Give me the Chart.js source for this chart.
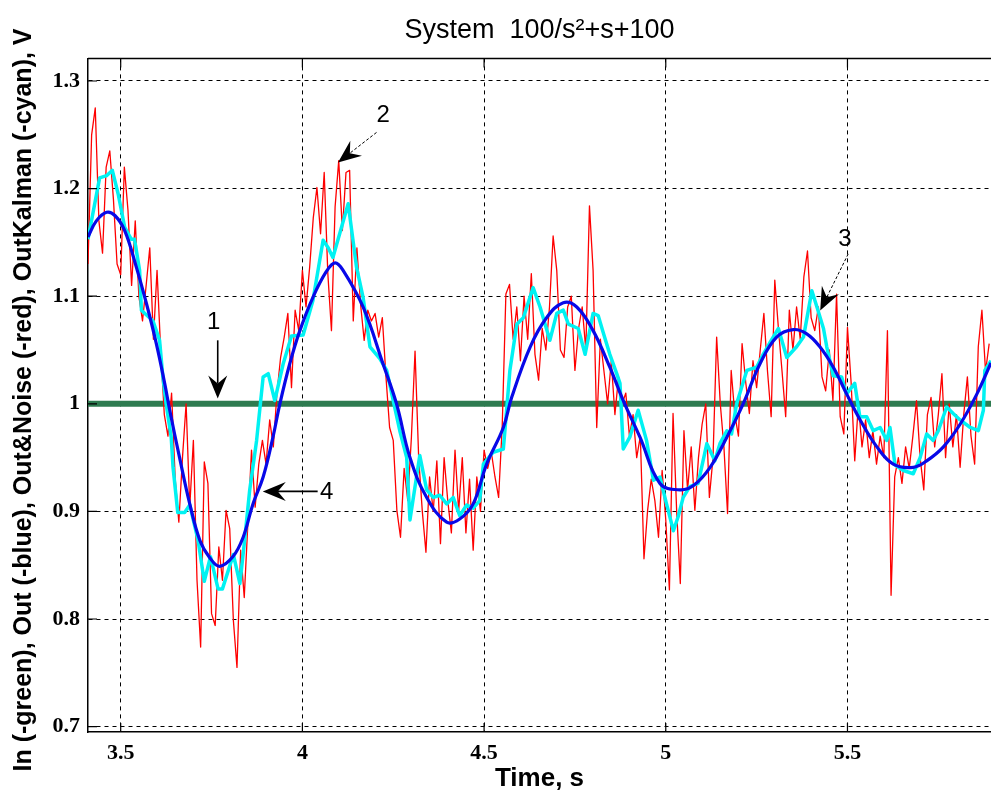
<!DOCTYPE html>
<html>
<head>
<meta charset="utf-8">
<script src="https://cdn.jsdelivr.net/npm/chart.js@4/dist/chart.umd.min.js"></script>
<style>
  html, body { margin: 0; background: #fff; }
  canvas { display: block; }
</style>
</head>
<body>
<canvas id="chart" width="991" height="794"></canvas>
<script>
// Out&Noise (red), sampled every 0.01 s from 3.41 s
const redStart = 3.41;
const redStep = 0.01;
const redValues = [
  1.13, 1.25, 1.275, 1.17, 1.14, 1.22, 1.235, 1.19, 1.13, 1.12,
  1.22, 1.18, 1.11, 1.17, 1.10, 1.077, 1.11, 1.145, 1.06, 1.124,
  1.05, 0.99, 0.97, 1.01, 0.93, 0.89, 0.95, 1.0, 0.904, 0.966,
  0.836, 0.774, 0.946, 0.926, 0.805, 0.794, 0.867, 0.836, 0.901, 0.884,
  0.799, 0.755, 0.864, 0.82, 0.889, 0.957, 0.904, 0.944, 0.966, 0.944,
  0.985, 0.96, 1.01, 1.043, 1.062, 1.084, 1.015, 1.087, 1.068, 1.124,
  1.09, 1.127, 1.173, 1.201, 1.158, 1.215, 1.121, 1.068, 1.183, 1.226,
  1.161, 1.215, 1.217, 1.077, 1.145, 1.093, 1.059, 1.087, 1.077, 1.084,
  1.062, 1.08, 1.025, 0.978, 0.966, 0.901, 0.876, 0.94, 0.91, 0.969,
  1.049, 0.95, 0.90, 0.862, 0.932, 0.90, 0.947, 0.870, 0.95, 0.91,
  0.88, 0.957, 0.90, 0.95, 0.88, 0.93, 0.864, 0.932, 0.90, 0.957,
  0.94, 0.955, 0.932, 0.913, 0.98, 1.102, 1.111, 1.06, 1.09, 1.04,
  1.10, 1.06, 1.121, 1.046, 1.022, 1.07, 1.05, 1.09, 1.156, 1.124,
  1.05, 1.043, 1.09, 1.10, 1.031, 1.07, 1.09, 1.05, 1.184, 1.124,
  0.978, 1.06, 1.03, 1.0, 1.04, 0.99, 1.025, 1.0, 1.01, 0.97,
  0.99, 0.95, 0.97, 0.856, 0.901, 0.93, 0.91, 0.876, 0.938, 0.892,
  0.827, 0.991, 0.90, 0.833, 0.975, 0.92, 0.96, 0.901, 0.95, 0.981,
  1.0, 0.913, 0.95, 1.062, 1.0, 0.96, 0.898, 1.031, 0.99, 0.97,
  1.056, 1.02, 0.991, 1.04, 1.015, 1.05, 1.084, 1.03, 0.988, 1.115,
  1.07, 1.03, 0.988, 1.087, 1.05, 1.09, 1.06, 1.118, 1.142, 1.08,
  1.068, 1.09, 1.025, 1.012, 1.05, 1.003, 1.102, 0.988, 0.972, 1.071,
  1.02, 0.947, 1.0, 0.96, 0.985, 0.95, 0.975, 0.944, 0.97, 0.95,
  1.068, 0.822, 0.932, 0.95, 0.926, 0.96, 0.94, 0.97, 1.003, 0.95,
  0.92, 0.99, 1.006, 0.96, 0.99, 1.028, 0.95, 1.0, 0.96, 0.99,
  0.941, 0.99, 1.025, 0.97, 0.944, 1.053, 1.087, 1.03, 1.056
];

// Out (blue)
const blueTimes = [
  3.41, 3.433, 3.461, 3.484, 3.511, 3.543, 3.571, 3.598, 3.621, 3.635,
  3.662, 3.690, 3.718, 3.745, 3.772, 3.809, 3.837, 3.864, 3.892, 3.919,
  3.938, 3.965, 3.993, 4.029, 4.066, 4.09, 4.112, 4.167, 4.222, 4.259,
  4.296, 4.342, 4.397, 4.433, 4.470, 4.507, 4.553, 4.576, 4.627, 4.672,
  4.718, 4.755, 4.800, 4.846, 4.883, 4.929, 4.984, 5.039, 5.076, 5.122,
  5.168, 5.213, 5.259, 5.305, 5.351, 5.388, 5.424, 5.461, 5.498, 5.535,
  5.581, 5.626, 5.681, 5.718, 5.764, 5.810, 5.856, 5.895
];
const blueValues = [
  1.155, 1.170, 1.178, 1.175, 1.161, 1.127, 1.093, 1.056, 1.019, 0.994,
  0.950, 0.907, 0.873, 0.857, 0.849, 0.858, 0.876, 0.907, 0.932, 0.969,
  1.000, 1.037, 1.068, 1.099, 1.123, 1.131, 1.124, 1.090, 1.037, 1.000,
  0.950, 0.913, 0.890, 0.893, 0.907, 0.944, 0.978, 1.006, 1.053, 1.080,
  1.094, 1.090, 1.068, 1.034, 1.003, 0.969, 0.926, 0.920, 0.924, 0.941,
  0.969, 1.000, 1.037, 1.062, 1.069, 1.065, 1.053, 1.034, 1.009, 0.985,
  0.960, 0.944, 0.941, 0.947, 0.960, 0.981, 1.009, 1.038
];

// OutKalman (cyan)
const cyanTimes = [
  3.41, 3.442, 3.461, 3.477, 3.493, 3.511, 3.529, 3.538, 3.552, 3.557,
  3.589, 3.607, 3.616, 3.625, 3.639, 3.644, 3.657, 3.676, 3.690, 3.713,
  3.730, 3.747, 3.768, 3.780, 3.810, 3.828, 3.840, 3.855, 3.874, 3.892,
  3.906, 3.924, 3.947, 3.970, 4.002, 4.029, 4.057, 4.071, 4.084, 4.126,
  4.149, 4.167, 4.186, 4.213, 4.232, 4.250, 4.268, 4.287, 4.296, 4.323,
  4.342, 4.360, 4.378, 4.397, 4.415, 4.433, 4.452, 4.470, 4.488, 4.498,
  4.525, 4.553, 4.562, 4.571, 4.590, 4.608, 4.635, 4.654, 4.681, 4.700,
  4.718, 4.732, 4.759, 4.778, 4.800, 4.814, 4.828, 4.846, 4.865, 4.874,
  4.883, 4.901, 4.924, 4.947, 4.966, 4.984, 5.002, 5.021, 5.034, 5.048,
  5.066, 5.089, 5.113, 5.135, 5.149, 5.168, 5.181, 5.195, 5.223, 5.250,
  5.268, 5.287, 5.310, 5.333, 5.360, 5.379, 5.402, 5.416, 5.434, 5.443,
  5.461, 5.484, 5.497, 5.520, 5.534, 5.553, 5.571, 5.590, 5.608, 5.617,
  5.631, 5.654, 5.681, 5.700, 5.718, 5.736, 5.750, 5.773, 5.791, 5.810,
  5.838, 5.860, 5.874, 5.878, 5.895
];
const cyanValues = [
  1.153, 1.210, 1.212, 1.217, 1.195, 1.164, 1.153, 1.153, 1.124, 1.087,
  1.077, 1.059, 1.025, 1.000, 0.969, 0.941, 0.899, 0.899, 0.906, 0.873,
  0.835, 0.858, 0.828, 0.828, 0.860, 0.833, 0.870, 0.920, 0.966, 1.025,
  1.028, 1.003, 1.037, 1.063, 1.064, 1.096, 1.152, 1.145, 1.136, 1.186,
  1.127, 1.099, 1.053, 1.042, 1.031, 1.003, 0.975, 0.950, 0.892, 0.952,
  0.920, 0.913, 0.915, 0.907, 0.913, 0.896, 0.906, 0.903, 0.910, 0.944,
  0.955, 0.958, 0.994, 1.031, 1.074, 1.080, 1.108, 1.090, 1.059, 1.084,
  1.087, 1.074, 1.070, 1.046, 1.084, 1.082, 1.066, 1.046, 1.028, 1.019,
  0.958, 0.969, 0.994, 0.966, 0.929, 0.932, 0.907, 0.882, 0.895, 0.913,
  0.923, 0.926, 0.963, 0.947, 0.963, 0.975, 0.972, 1.000, 1.031, 1.034,
  1.046, 1.057, 1.070, 1.043, 1.053, 1.062, 1.105, 1.090, 1.070, 1.053,
  1.026, 1.025, 1.009, 1.019, 0.988, 0.988, 0.975, 0.978, 0.966, 0.978,
  0.943, 0.938, 0.935, 0.950, 0.972, 0.966, 0.975, 0.997, 0.991, 0.985,
  0.978, 0.975, 0.994, 1.031, 1.040
];

// In (green): unit step, already at 1
const greenTimes = [3.41, 5.895];
const greenValues = [1, 1];

const xTickValues = [3.5, 4, 4.5, 5, 5.5];
const xTickLabels = ['3.5', '4', '4.5', '5', '5.5'];
const yTickValues = [0.7, 0.8, 0.9, 1.0, 1.1, 1.2, 1.3];
const yTickLabels = ['0.7', '0.8', '0.9', '1', '1.1', '1.2', '1.3'];

const titleText = 'System  100/s\u00b2+s+100';
const xTitle = 'Time, s';
const yTitle = 'In (-green), Out (-blue), Out&Noise (-red), OutKalman (-cyan), V';

// numbered arrows: label point, arrow tail, arrow tip (data coords)
const notes = [
  { text: '1', at: [3.756, 1.0755], from: [3.767, 1.059], to: [3.767, 1.005], dashed: false },
  { text: '2', at: [4.222, 1.2677], from: [4.204, 1.2522], to: [4.098, 1.2243], dashed: true },
  { text: '3', at: [5.493, 1.1532], from: [5.502, 1.1393], to: [5.425, 1.0866], dashed: true },
  { text: '4', at: [4.067, 0.9176], from: [4.042, 0.9186], to: [3.891, 0.9186], dashed: false }
];

function pairs(xs, ys) {
  return xs.map((x, i) => ({ x: x, y: ys[i] }));
}

const redData = redValues.map((v, i) => ({ x: +(redStart + i * redStep).toFixed(3), y: v }));

function drawArrow(ctx, x1, y1, x2, y2, dashed) {
  const ang = Math.atan2(y2 - y1, x2 - x1);
  const len = 23, half = 9.5, notch = 15;
  ctx.setLineDash(dashed ? [3, 2] : []);
  ctx.lineWidth = dashed ? 1 : 1.6;
  ctx.beginPath();
  ctx.moveTo(x1, y1);
  ctx.lineTo(x2 - notch * Math.cos(ang), y2 - notch * Math.sin(ang));
  ctx.stroke();
  ctx.setLineDash([]);
  ctx.save();
  ctx.translate(x2, y2);
  ctx.rotate(ang);
  ctx.beginPath();
  ctx.moveTo(0, 0);
  ctx.lineTo(-len, -half);
  ctx.lineTo(-notch, 0);
  ctx.lineTo(-len, half);
  ctx.closePath();
  ctx.fill();
  ctx.restore();
}

const frame = {
  id: 'frame',
  afterDatasetsDraw(chart) {
    const { ctx, chartArea: a, scales: { x, y } } = chart;
    ctx.save();
    ctx.strokeStyle = '#000';
    ctx.fillStyle = '#000';

    // top box edge
    ctx.lineWidth = 1.5;
    ctx.beginPath();
    ctx.moveTo(a.left, a.top);
    ctx.lineTo(a.right, a.top);
    ctx.stroke();

    // inward ticks
    ctx.lineWidth = 1.2;
    ctx.beginPath();
    x.ticks.forEach(t => {
      const px = x.getPixelForValue(t.value);
      ctx.moveTo(px, a.top); ctx.lineTo(px, a.top + 9);
      ctx.moveTo(px, a.bottom); ctx.lineTo(px, a.bottom - 9);
    });
    y.ticks.forEach(t => {
      const py = y.getPixelForValue(t.value);
      ctx.moveTo(a.left, py); ctx.lineTo(a.left + 9, py);
    });
    ctx.stroke();

    // numbered arrows
    ctx.font = '24px "Liberation Sans", Arial, sans-serif';
    ctx.textAlign = 'center';
    ctx.textBaseline = 'middle';
    notes.forEach(n => {
      ctx.fillText(n.text, x.getPixelForValue(n.at[0]), y.getPixelForValue(n.at[1]));
      drawArrow(ctx,
        x.getPixelForValue(n.from[0]), y.getPixelForValue(n.from[1]),
        x.getPixelForValue(n.to[0]), y.getPixelForValue(n.to[1]), n.dashed);
    });

    // y axis title (drawn by hand so it is not squeezed)
    ctx.font = 'bold 25px "Liberation Sans", Arial, sans-serif';
    ctx.translate(24, 400);
    ctx.rotate(-Math.PI / 2);
    ctx.fillText(yTitle, 0, 0);
    ctx.restore();
  }
};

const tickFont = { family: '"Liberation Serif", "Times New Roman", serif', size: 22, weight: 'bold' };

new Chart(document.getElementById('chart'), {
  type: 'line',
  data: {
    datasets: [
      { label: 'Out', data: pairs(blueTimes, blueValues), borderColor: '#0808e8', borderWidth: 3.2, tension: 0.4 },
      { label: 'OutKalman', data: pairs(cyanTimes, cyanValues), borderColor: '#00f2f2', borderWidth: 3.5, tension: 0 },
      { label: 'Out&Noise', data: redData, borderColor: '#ff0000', borderWidth: 1.3, tension: 0 },
      { label: 'In', data: pairs(greenTimes, greenValues), borderColor: '#2e7b50', borderWidth: 6, tension: 0 }
    ]
  },
  options: {
    responsive: false,
    animation: false,
    events: [],
    layout: { padding: 0 },
    elements: { point: { radius: 0 }, line: { borderJoinStyle: 'round' } },
    plugins: {
      legend: { display: false },
      tooltip: { enabled: false },
      title: {
        display: true,
        text: titleText,
        fullSize: false,
        color: '#000',
        font: { family: '"Liberation Sans", Arial, sans-serif', size: 27, weight: 'normal' },
        padding: { top: 14, bottom: 12 }
      }
    },
    scales: {
      x: {
        type: 'linear',
        min: 3.41,
        max: 5.895,
        afterBuildTicks: s => { s.ticks = xTickValues.map(v => ({ value: v })); },
        afterFit: s => { s.height = 62; },
        ticks: {
          color: '#000',
          font: tickFont,
          padding: 8,
          maxRotation: 0,
          callback: (v, i) => xTickLabels[i]
        },
        grid: { color: '#000', lineWidth: 1, drawTicks: false },
        border: { color: '#000', width: 1.5, dash: [4, 4] },
        title: {
          display: true,
          text: xTitle,
          color: '#000',
          font: { family: '"Liberation Sans", Arial, sans-serif', size: 26, weight: 'bold' },
          padding: { top: 0, bottom: 0 }
        }
      },
      y: {
        type: 'linear',
        min: 0.695,
        max: 1.321,
        afterBuildTicks: s => { s.ticks = yTickValues.map(v => ({ value: v })); },
        afterFit: s => { s.width = 88; },
        ticks: {
          color: '#000',
          font: tickFont,
          padding: 8,
          callback: (v, i) => yTickLabels[i]
        },
        grid: { color: '#000', lineWidth: 1, drawTicks: false },
        border: { color: '#000', width: 1.5, dash: [4, 4] }
      }
    }
  },
  plugins: [frame]
});
</script>
</body>
</html>
